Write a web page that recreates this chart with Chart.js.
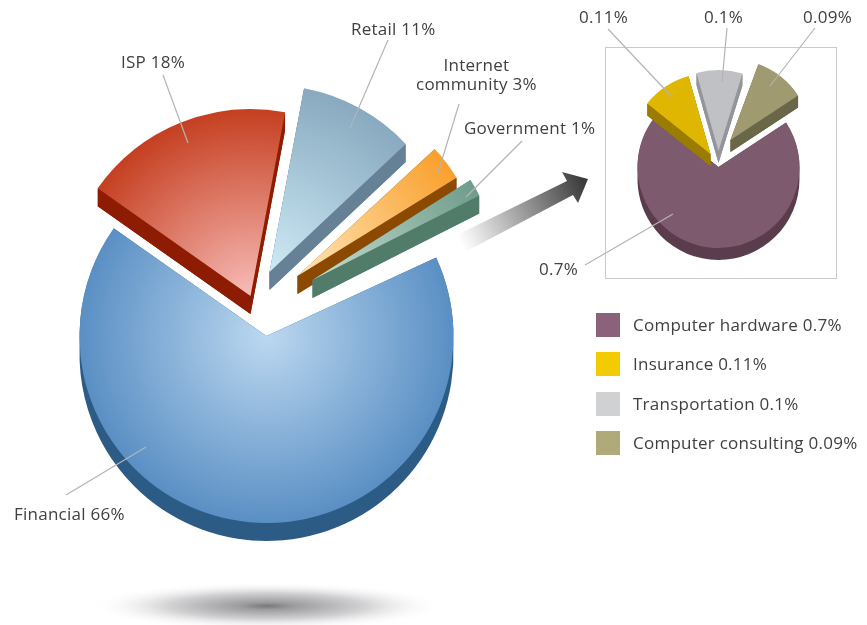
<!DOCTYPE html>
<html>
<head>
<meta charset="utf-8">
<style>
  html, body { margin: 0; padding: 0; background: #fff; }
  #page { position: relative; width: 867px; height: 625px; overflow: hidden; font-family: "Open Sans", sans-serif; color: #3f3f3f; }
  canvas { position: absolute; left: 0; top: 0; }
  .label { position: absolute; font-size: 17px; letter-spacing: 0.25px; line-height: 19px; white-space: nowrap; text-align: center; }
  .swatch { position: absolute; left: 596px; width: 24px; height: 24px; }
</style>
<script src="https://cdn.jsdelivr.net/npm/chart.js@4"></script>
</head>
<body>
<div id="page">
  <canvas id="mainPie" width="867" height="625"></canvas>
  <canvas id="detailPie" width="867" height="625"></canvas>
</div>
<script>
// Main pie
const mainCategories = ["Financial", "ISP", "Retail", "Internet community", "Government"];
const mainValues = [66, 18, 11, 3, 1];
// Breakdown of the 1% slice
const detailCategories = ["Computer hardware", "Insurance", "Transportation", "Computer consulting"];
const detailValues = [0.7, 0.11, 0.1, 0.09];
const legendLabels = ["Computer hardware 0.7%", "Insurance 0.11%", "Transportation 0.1%", "Computer consulting 0.09%"];

// Style tables, [inner colour, outer colour, wall colour]
const mainColors = [
    ["#bcd8f0", "#5a8fc4", "#2c5c86"],
    ["#f8bcb8", "#c53f20", "#8e1c02"],
    ["#cdeaf5", "#88a9bf", "#668195"],
    ["#ffe6b8", "#f9a02c", "#8c4a00"],
    ["#c4dccf", "#6f9c8b", "#527c6a"]
];
const detailColors = [
    ["#7d5a6e", "#7d5a6e", "#5a3c4d"],
    ["#dfb703", "#dfb703", "#9a7d00"],
    ["#c0c1c5", "#c0c1c5", "#94959a"],
    ["#9f9a70", "#9f9a70", "#6a6648"]
];
const legendColors = ["#8a6279", "#f2ca00", "#d0d1d3", "#b0aa7a"];
const mainShift = [[0, 0], [-16, -40], [3, -64], [31, -60], [46, -56]];
const detailShift = [[0, 0], [-8, -13], [0, -16], [12, -27]];
// The drawn slices are not exactly proportional, small edge corrections in degrees [start, end]
const mainEdgeTweak = [[0, 0], [0, 0], [0, -3.9], [-3.4, -3.3], [-3.9, -2.1]];
const detailEdgeTweak = [[0, 0], [0, -4], [-4, -7], [-4, 0]];

const mainLeaders = [[66, 495, 146, 447], [163, 75, 188, 143], [388, 40, 350, 128], [459, 104, 438, 173], [522, 141, 466, 197]];
const detailLeaders = [[585, 265, 673, 214], [608, 29, 672, 97], [727, 28, 722, 82], [815, 28, 770, 86]];

const textLabels = [
    { text: "Financial 66%", x: 14, y: 504 },
    { text: "ISP 18%", x: 121, y: 52 },
    { text: "Retail 11%", x: 351, y: 19 },
    { text: "Internet<br>community 3%", x: 416, y: 55 },
    { text: "Government 1%", x: 464, y: 118 },
    { text: "0.11%", x: 579, y: 7 },
    { text: "0.1%", x: 704, y: 7 },
    { text: "0.09%", x: 803, y: 7 },
    { text: "0.7%", x: 539, y: 259 }
];
const legendRows = [325, 364, 404, 443];

// Moves each arc to its exploded position and draws the side wall under it
function explodedPiePlugin(shift, tweak, colors, depth) {
    return {
        id: "explodedPie",
        afterDatasetsUpdate(chart) {
            const arcs = chart.getDatasetMeta(0).data;
            for (let i = 0; i < arcs.length; i++) {
                arcs[i].x += shift[i][0];
                arcs[i].y += shift[i][1];
                arcs[i].startAngle += tweak[i][0] * Math.PI / 180;
                arcs[i].endAngle += tweak[i][1] * Math.PI / 180;
            }
        },
        beforeDatasetDraw(chart) {
            const ctx = chart.ctx;
            const arcs = chart.getDatasetMeta(0).data;
            for (let i = 0; i < arcs.length; i++) {
                let arc = arcs[i];
                ctx.save();
                ctx.fillStyle = colors[i][2];
                ctx.beginPath();
                for (let d = 1; d <= depth; d++) {
                    ctx.moveTo(arc.x, arc.y + d);
                    ctx.arc(arc.x, arc.y + d, arc.outerRadius, arc.startAngle, arc.endAngle);
                    ctx.closePath();
                }
                ctx.fill();

                // Flat faces along both cut edges, keeps the tip of thin slices solid
                let edges = [arc.startAngle, arc.endAngle];
                for (let e = 0; e < edges.length; e++) {
                    let ex = arc.x + Math.cos(edges[e]) * arc.outerRadius;
                    let ey = arc.y + Math.sin(edges[e]) * arc.outerRadius;
                    ctx.beginPath();
                    ctx.moveTo(arc.x, arc.y);
                    ctx.lineTo(ex, ey);
                    ctx.lineTo(ex, ey + depth);
                    ctx.lineTo(arc.x, arc.y + depth);
                    ctx.closePath();
                    ctx.fill();
                }
                ctx.restore();
                arc.draw(ctx);
            }
            return false;
        }
    };
}

function leaderPlugin(lines) {
    return {
        id: "leaders",
        afterDatasetsDraw(chart) {
            const ctx = chart.ctx;
            ctx.save();
            ctx.strokeStyle = "#b4b4b4";
            ctx.lineWidth = 1.2;
            for (let i = 0; i < lines.length; i++) {
                ctx.beginPath();
                ctx.moveTo(lines[i][0], lines[i][1]);
                ctx.lineTo(lines[i][2], lines[i][3]);
                ctx.stroke();
            }
            ctx.restore();
        }
    };
}

// Floor shadow and the arrow pointing to the detail box
const backdropPlugin = {
    id: "backdrop",
    beforeDraw(chart) {
        const ctx = chart.ctx;

        ctx.save();
        ctx.translate(267, 606);
        ctx.scale(1, 0.135);
        let shadow = ctx.createRadialGradient(0, 0, 0, 0, 0, 178);
        shadow.addColorStop(0, "#78787a");
        shadow.addColorStop(0.15, "#9c9c9f");
        shadow.addColorStop(0.55, "#d2d2d4");
        shadow.addColorStop(1, "rgba(255, 255, 255, 0)");
        ctx.fillStyle = shadow;
        ctx.beginPath();
        ctx.arc(0, 0, 178, 0, Math.PI * 2);
        ctx.fill();
        ctx.restore();

        let arrow = ctx.createLinearGradient(460, 243, 585, 186);
        arrow.addColorStop(0, "rgba(240, 240, 240, 0)");
        arrow.addColorStop(0.1, "#eeeeee");
        arrow.addColorStop(1, "#3c3c3c");
        ctx.save();
        ctx.fillStyle = arrow;
        ctx.beginPath();
        ctx.moveTo(457, 235);
        ctx.lineTo(567, 181);
        ctx.lineTo(562, 172);
        ctx.lineTo(588, 179);
        ctx.lineTo(578, 203);
        ctx.lineTo(573, 195);
        ctx.lineTo(465, 252);
        ctx.closePath();
        ctx.fill();
        ctx.restore();
    }
};

const detailBoxPlugin = {
    id: "detailBox",
    beforeDraw(chart) {
        const ctx = chart.ctx;
        ctx.save();
        ctx.strokeStyle = "#c9cacc";
        ctx.lineWidth = 1;
        ctx.strokeRect(605.5, 47.5, 231, 231);
        ctx.restore();
    }
};

function gradientFill(colors, shift) {
    return function (context) {
        let area = context.chart.chartArea;
        let i = context.dataIndex;
        if (!area) {
            return colors[i][1];
        }
        let cx = (area.left + area.right) / 2 + shift[i][0];
        let cy = (area.top + area.bottom) / 2 + shift[i][1];
        let r = (area.right - area.left) / 2;
        let gradient = context.chart.ctx.createRadialGradient(cx, cy, 0, cx, cy, r);
        gradient.addColorStop(0, colors[i][0]);
        gradient.addColorStop(1, colors[i][1]);
        return gradient;
    };
}

function buildPie(canvasId, labels, values, colors, shift, rotation, padding, plugins) {
    return new Chart(document.getElementById(canvasId), {
        type: "pie",
        data: {
            labels: labels,
            datasets: [{
                data: values,
                backgroundColor: gradientFill(colors, shift),
                borderWidth: 0,
                clip: false
            }]
        },
        options: {
            responsive: false,
            animation: false,
            rotation: rotation,
            layout: { padding: padding },
            plugins: {
                legend: { display: false },
                tooltip: { enabled: false },
                title: { display: false }
            },
            events: []
        },
        plugins: plugins
    });
}

buildPie("mainPie", mainCategories, mainValues, mainColors, mainShift, 65.2,
    { left: 79, right: 413, top: 149, bottom: 102 },
    [backdropPlugin, explodedPiePlugin(mainShift, mainEdgeTweak, mainColors, 18), leaderPlugin(mainLeaders)]);

buildPie("detailPie", detailCategories, detailValues, detailColors, detailShift, 56.6,
    { left: 637, right: 67, top: 86, bottom: 377 },
    [detailBoxPlugin, explodedPiePlugin(detailShift, detailEdgeTweak, detailColors, 12), leaderPlugin(detailLeaders)]);

// Text labels and legend
let page = document.getElementById("page");
for (let i = 0; i < textLabels.length; i++) {
    let div = document.createElement("div");
    div.className = "label";
    div.innerHTML = textLabels[i].text;
    div.style.left = textLabels[i].x + "px";
    div.style.top = textLabels[i].y + "px";
    page.appendChild(div);
}
for (let i = 0; i < legendLabels.length; i++) {
    let swatch = document.createElement("div");
    swatch.className = "swatch";
    swatch.style.top = (legendRows[i] - 12) + "px";
    swatch.style.background = legendColors[i];
    page.appendChild(swatch);

    let div = document.createElement("div");
    div.className = "label";
    div.textContent = legendLabels[i];
    div.style.left = "633px";
    div.style.top = (legendRows[i] - 10) + "px";
    page.appendChild(div);
}
</script>
</body>
</html>
